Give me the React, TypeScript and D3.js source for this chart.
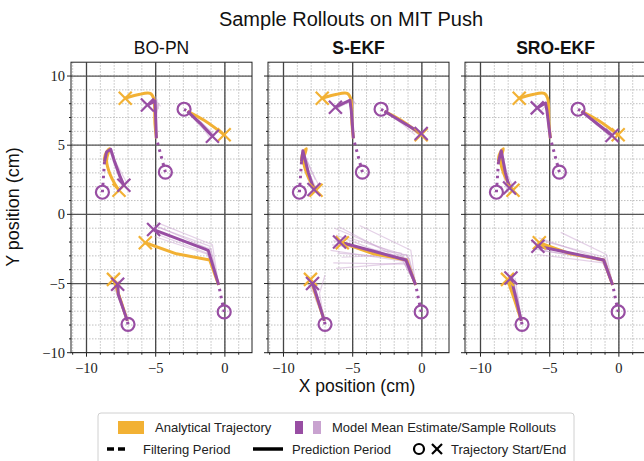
import React from 'react';
import * as d3 from 'd3';

type P = [number, number];

const titleText = 'Sample Rollouts on MIT Push';
const panelTitles = ['BO-PN', 'S-EKF', 'SRO-EKF'];
const panelBold = [false, true, true];
const xMajorTicks = [-10, -5, 0];
const yMajorTicks = [-10, -5, 0, 5, 10];
const xMinorTicks = [-11, -10, -9, -8, -7, -6, -5, -4, -3, -2, -1, 0, 1];
const yMinorTicks = [-10, -9, -8, -7, -6, -5, -4, -3, -2, -1, 0, 1, 2, 3, 4, 5, 6, 7, 8, 9, 10];

// trajectory start points (circles)
const starts: P[] = [[-4.3, 3.05], [-2.95, 7.6], [-8.85, 1.6], [-0.05, -7.05], [-7.0, -7.95]];
// end of filtering period
const filterEnds: P[] = [[-4.95, 5.5], [-2.7, 7.45], [-8.7, 3.8], [-0.45, -5.1], [-7.05, -7.7]];

// analytical trajectories (prediction period)
const analytical: P[][] = [
  [[-4.95, 5.5], [-5.05, 6.5], [-5.15, 8.4], [-5.4, 8.75], [-6.3, 8.65], [-7.2, 8.4]],
  [[-2.7, 7.45], [-1.5, 6.8], [-0.05, 5.75]],
  [[-8.7, 3.8], [-8.65, 4.3], [-8.35, 4.75], [-8.55, 3.9], [-8.3, 2.9], [-7.95, 2.2], [-7.65, 1.75]],
  [[-0.45, -5.1], [-1.1, -3.3], [-3.5, -2.85], [-5.75, -2.05]],
  [[-7.05, -7.7], [-7.5, -6.3], [-8.05, -4.7]],
];
const analyticalSmooth = [true, true, true, false, false];

// model mean estimates per panel
const meanBO: P[][] = [
  [[-4.95, 5.5], [-5.0, 7.0], [-5.05, 8.2], [-5.6, 7.9]],
  [[-2.7, 7.45], [-1.8, 6.6], [-0.9, 5.65]],
  [[-8.7, 3.8], [-8.55, 4.5], [-8.25, 4.7], [-8.0, 3.9], [-7.6, 2.8], [-7.3, 2.1]],
  [[-0.45, -5.1], [-1.2, -2.6], [-5.15, -1.1]],
  [[-7.05, -7.7], [-7.7, -5.8], [-7.75, -5.05]],
];
const meanSEKF: P[][] = [
  [[-4.95, 5.5], [-5.1, 7.5], [-5.2, 8.25], [-6.25, 7.75]],
  [[-2.7, 7.45], [-1.3, 6.6], [-0.05, 5.85]],
  [[-8.7, 3.8], [-8.6, 4.6], [-8.2, 3.0], [-7.8, 1.8]],
  [[-0.45, -5.1], [-1.15, -3.3], [-5.95, -2.0]],
  [[-7.05, -7.7], [-7.6, -5.9], [-7.9, -5.0]],
];
const meanSRO: P[][] = [
  [[-4.95, 5.5], [-5.2, 7.5], [-5.3, 8.05], [-5.9, 7.7]],
  [[-2.7, 7.45], [-1.5, 6.5], [-0.5, 5.7]],
  [[-8.7, 3.8], [-8.5, 4.6], [-8.2, 3.0], [-7.9, 1.9]],
  [[-0.45, -5.1], [-1.1, -3.3], [-5.85, -2.3]],
  [[-7.05, -7.7], [-7.5, -5.8], [-7.8, -4.6]],
];

// sample rollouts (points after the filtering end)
const samplesBO: P[][][] = [
  [[[-5.0, 7.0], [-4.9, 8.3], [-5.3, 8.0]], [[-5.0, 7.0], [-5.1, 8.45], [-5.5, 8.1]], [[-4.95, 7.0], [-4.85, 8.1], [-4.8, 7.6]], [[-5.05, 7.0], [-5.2, 8.2], [-5.8, 7.8]], [[-5.0, 7.0], [-4.8, 8.0], [-4.65, 7.8]], [[-5.0, 7.0], [-5.0, 8.5], [-5.2, 8.3]]],
  [[[-1.8, 6.7], [-1.0, 5.8]], [[-1.9, 6.5], [-0.8, 5.5]], [[-1.7, 6.6], [-0.7, 5.7]], [[-1.8, 6.55], [-1.1, 5.55]], [[-1.75, 6.7], [-0.9, 5.85]]],
  [[[-8.55, 4.5], [-8.2, 4.75], [-7.9, 3.7], [-7.2, 2.0]], [[-8.55, 4.5], [-8.3, 4.6], [-8.05, 3.8], [-7.5, 2.3]], [[-8.6, 4.4], [-8.2, 4.6], [-7.8, 3.6], [-7.1, 2.3]], [[-8.55, 4.5], [-8.25, 4.8], [-8.0, 4.0], [-7.4, 1.9]]],
  [[[-1.1, -2.3], [-5.2, -0.8]], [[-1.3, -2.8], [-5.0, -1.4]], [[-1.0, -2.5], [-5.3, -1.2]], [[-1.4, -2.4], [-4.8, -0.9]], [[-1.2, -2.9], [-5.1, -1.6]], [[-0.9, -2.2], [-4.9, -0.6]]],
  [[[-7.6, -5.9], [-7.9, -5.0]], [[-7.8, -5.8], [-7.6, -5.2]], [[-7.7, -6.0], [-8.0, -5.3]], [[-7.65, -5.7], [-7.7, -4.8]]],
];
const samplesSEKF: P[][][] = [
  [[[-5.1, 7.5], [-5.2, 8.3], [-6.0, 7.8]], [[-5.1, 7.5], [-5.1, 8.4], [-5.8, 8.0]], [[-5.05, 7.5], [-5.0, 8.3], [-4.8, 8.0]], [[-5.1, 7.5], [-5.25, 8.1], [-6.3, 7.6]], [[-5.05, 7.5], [-4.9, 8.1], [-5.0, 7.7]]],
  [[[-1.3, 6.7], [0.1, 5.9]], [[-1.4, 6.6], [-0.3, 6.0]], [[-1.2, 6.5], [0.0, 5.6]], [[-1.35, 6.5], [-0.5, 5.75]], [[-1.25, 6.65], [0.2, 5.7]]],
  [[[-8.6, 4.6], [-8.1, 2.9], [-7.6, 1.8]], [[-8.6, 4.6], [-8.3, 3.2], [-7.9, 2.0]], [[-8.55, 4.5], [-8.0, 3.2], [-7.5, 2.2]], [[-8.6, 4.6], [-8.35, 2.9], [-8.0, 1.9]], [[-8.6, 4.5], [-8.1, 3.4], [-7.7, 2.5]]],
  [[[-1.3, -3.1], [-6.3, -1.0]], [[-1.0, -3.5], [-6.2, -1.5]], [[-1.5, -2.8], [-6.5, -2.2]], [[-0.9, -3.2], [-6.1, -2.8]], [[-1.2, -3.6], [-6.4, -3.5]], [[-1.1, -2.9], [-5.8, -3.1]], [[-1.4, -3.3], [-6.0, -0.9]], [[-1.0, -3.0], [-5.6, -1.6]], [[-0.8, -2.6], [-4.5, -0.8]], [[-1.2, -3.4], [-6.6, -2.6]], [[-1.3, -3.5], [-6.2, -3.9]], [[-1.1, -3.2], [-6.4, -1.9]]],
  [[[-7.5, -6.0], [-8.1, -4.6]], [[-7.6, -5.8], [-7.6, -4.9]], [[-7.7, -6.1], [-7.8, -5.4]], [[-7.7, -5.9], [-8.2, -5.1]], [[-7.4, -5.7], [-7.0, -4.4]]],
];
const samplesSRO: P[][][] = [
  [[[-5.2, 7.5], [-5.3, 8.1], [-5.8, 7.8]], [[-5.15, 7.5], [-5.25, 7.9], [-5.6, 7.5]], [[-5.2, 7.5], [-5.35, 8.0], [-6.0, 7.6]], [[-5.15, 7.5], [-5.2, 8.1], [-5.4, 7.9]]],
  [[[-1.5, 6.6], [-0.6, 5.5]], [[-1.4, 6.5], [-0.3, 5.8]], [[-1.6, 6.45], [-0.7, 5.75]], [[-1.5, 6.4], [-0.4, 5.55]]],
  [[[-8.5, 4.6], [-8.2, 3.0], [-7.8, 1.9]], [[-8.5, 4.6], [-8.3, 3.1], [-8.0, 2.0]], [[-8.45, 4.5], [-8.1, 3.0], [-7.7, 2.1]], [[-8.5, 4.6], [-8.35, 2.9], [-8.1, 1.75]]],
  [[[-1.1, -3.3], [-5.8, -1.7]], [[-1.2, -3.4], [-6.0, -2.2]], [[-1.0, -3.3], [-5.7, -2.6]], [[-1.15, -3.5], [-5.9, -2.9]], [[-1.0, -3.1], [-5.6, -1.9]], [[-1.2, -3.35], [-6.1, -2.5]], [[-0.9, -2.9], [-4.2, -1.3]]],
  [[[-7.3, -6.0], [-8.0, -4.4]], [[-7.5, -5.9], [-7.6, -4.8]], [[-7.4, -6.1], [-7.9, -5.0]], [[-7.4, -5.8], [-7.7, -4.3]], [[-7.3, -5.9], [-7.5, -4.6]]],
];

const means = [meanBO, meanSEKF, meanSRO];
const samples = [samplesBO, samplesSEKF, samplesSRO];

const ORANGE = '#f2b134';
const PURPLE = '#984ea3';
const LIGHT = '#c9a3d0';

const W = 644, H = 461;
const panelLefts = [71, 268, 465];
const panelW = 181;
const yTop = 62.2, yBot = 352.7;
const xDomain: [number, number] = [-11.12, 1.96];
const fmt = (v: number) => (v < 0 ? '\u2212' + Math.abs(v) : String(v));

function XMark({ x, y, s, color, w }: { x: number; y: number; s: number; color: string; w: number }) {
  return (
    <g stroke={color} strokeWidth={w} strokeLinecap="butt">
      <line x1={x - s} y1={y - s} x2={x + s} y2={y + s} />
      <line x1={x - s} y1={y + s} x2={x + s} y2={y - s} />
    </g>
  );
}

function Panel({ idx }: { idx: number }) {
  const left = panelLefts[idx];
  const x = d3.scaleLinear().domain(xDomain).range([left, left + panelW]);
  const y = d3.scaleLinear().domain([-10, 11]).range([yBot, yTop]);
  const line = d3.line<P>().x((d) => x(d[0])).y((d) => y(d[1]));
  const smooth = d3.line<P>().x((d) => x(d[0])).y((d) => y(d[1])).curve(d3.curveCatmullRom.alpha(0.5));
  const clipId = `clip${idx}`;
  const mean = means[idx];
  const samp = samples[idx];
  return (
    <g>
      <defs>
        <clipPath id={clipId}>
          <rect x={left} y={yTop} width={panelW} height={yBot - yTop} />
        </clipPath>
      </defs>
      <rect x={left} y={yTop} width={panelW} height={yBot - yTop} fill="#fff" />
      <g clipPath={`url(#${clipId})`}>
        {xMinorTicks.map((t) => (
          <line key={'xm' + t} x1={x(t)} x2={x(t)} y1={yTop} y2={yBot} stroke="#b0b0b0" strokeWidth={0.8} strokeDasharray="1.5,1.5" />
        ))}
        {yMinorTicks.map((t) => (
          <line key={'ym' + t} x1={left} x2={left + panelW} y1={y(t)} y2={y(t)} stroke="#b0b0b0" strokeWidth={0.8} strokeDasharray="1.5,1.5" />
        ))}
        {xMajorTicks.map((t) => (
          <line key={'xM' + t} x1={x(t)} x2={x(t)} y1={yTop} y2={yBot} stroke="#444" strokeWidth={1.3} />
        ))}
        {yMajorTicks.map((t) => (
          <line key={'yM' + t} x1={left} x2={left + panelW} y1={y(t)} y2={y(t)} stroke="#555" strokeWidth={1.3} />
        ))}
        {samp.map((group, gi) =>
          group.map((s, si) => (
            <path key={`s${gi}-${si}`} d={line([filterEnds[gi], ...s]) || ''} fill="none" stroke={LIGHT} strokeOpacity={0.5} strokeWidth={1.2} strokeLinejoin="round" />
          ))
        )}
        {analytical.map((a, i) => (
          <path key={'a' + i} d={(analyticalSmooth[i] ? smooth(a) : line(a)) || ''} fill="none" stroke={ORANGE} strokeWidth={3} strokeLinejoin="round" />
        ))}
        {starts.map((s, i) => (
          <path key={'f' + i} d={line([s, filterEnds[i]]) || ''} fill="none" stroke={PURPLE} strokeWidth={3} strokeDasharray="2.5,4.5" />
        ))}
        {mean.map((m, i) => (
          <path key={'m' + i} d={line(m) || ''} fill="none" stroke={PURPLE} strokeWidth={3} strokeLinejoin="round" />
        ))}
        {analytical.map((a, i) => {
          const e = a[a.length - 1];
          return <XMark key={'ax' + i} x={x(e[0])} y={y(e[1])} s={6.5} color={ORANGE} w={2.2} />;
        })}
        {mean.map((m, i) => {
          const e = m[m.length - 1];
          return <XMark key={'mx' + i} x={x(e[0])} y={y(e[1])} s={6.5} color={PURPLE} w={2.2} />;
        })}
        {starts.map((s, i) => (
          <circle key={'c' + i} cx={x(s[0])} cy={y(s[1])} r={6.5} fill="none" stroke={PURPLE} strokeWidth={2.2} />
        ))}
      </g>
      <rect x={left} y={yTop} width={panelW} height={yBot - yTop} fill="none" stroke="#222" strokeWidth={1} />
      {xMinorTicks.map((t) => (
        <line key={'xt' + t} x1={x(t)} x2={x(t)} y1={yBot} y2={yBot + (xMajorTicks.includes(t) ? 4 : 2)} stroke="#222" strokeWidth={1} />
      ))}
      {yMinorTicks.map((t) => (
        <line key={'yt' + t} x1={left} x2={left - (yMajorTicks.includes(t) ? 4 : 2)} y1={y(t)} y2={y(t)} stroke="#222" strokeWidth={1} />
      ))}
      {xMajorTicks.map((t) => (
        <text key={'xl' + t} x={x(t)} y={yBot + 20.5} textAnchor="middle" fontFamily="'Liberation Serif', 'DejaVu Serif', serif" fontSize={14.5} fill="#222">
          {fmt(t)}
        </text>
      ))}
      {idx === 0 &&
        yMajorTicks.map((t) => (
          <text key={'yl' + t} x={left - 6} y={y(t) + 5} textAnchor="end" fontFamily="'Liberation Serif', 'DejaVu Serif', serif" fontSize={14.5} fill="#222">
            {fmt(t)}
          </text>
        ))}
      <text x={left + panelW / 2} y={54} textAnchor="middle" fontFamily="'Liberation Sans', Arial, sans-serif" fontSize={17.5} fontWeight={panelBold[idx] ? 'bold' : 'normal'} fill="#111">
        {panelTitles[idx]}
      </text>
    </g>
  );
}

export default function App() {
  const sans = "'Liberation Sans', Arial, sans-serif";
  return (
    <svg width={W} height={H} style={{ position: 'absolute', left: 0, top: 0, background: '#fff' }}>
      <rect x={0} y={0} width={W} height={H} fill="#fff" />
      <text x={351} y={26} textAnchor="middle" fontFamily={sans} fontSize={20} fill="#111">
        {titleText}
      </text>
      {[0, 1, 2].map((i) => (
        <Panel key={i} idx={i} />
      ))}
      <text transform="translate(19,207) rotate(-90)" textAnchor="middle" fontFamily={sans} fontSize={18} fill="#111">
        Y position (cm)
      </text>
      <text x={357} y={392} textAnchor="middle" fontFamily={sans} fontSize={17.5} fill="#111">
        X position (cm)
      </text>
      <g fontFamily={sans} fontSize={13} fill="#222">
        <rect x={98} y={413} width={476} height={56} rx={3} fill="#fff" stroke="#d0d0d0" />
        <rect x={118} y={421} width={26} height={13} fill={ORANGE} />
        <text x={155} y={432}>Analytical Trajectory</text>
        <rect x={295} y={421} width={8} height={13} fill={PURPLE} />
        <rect x={313} y={421} width={8} height={13} fill={LIGHT} />
        <text x={332} y={432}>Model Mean Estimate/Sample Rollouts</text>
        <line x1={107} x2={128} y1={449} y2={449} stroke="#000" strokeWidth={3.5} strokeDasharray="7,4" />
        <text x={143} y={454}>Filtering Period</text>
        <line x1={253} x2={283} y1={449} y2={449} stroke="#000" strokeWidth={3.5} />
        <text x={292} y={454}>Prediction Period</text>
        <circle cx={419} cy={449} r={5} fill="none" stroke="#000" strokeWidth={2.2} />
        <XMark x={437} y={449} s={5} color="#000" w={2.2} />
        <text x={451} y={454}>Trajectory Start/End</text>
      </g>
    </svg>
  );
}
